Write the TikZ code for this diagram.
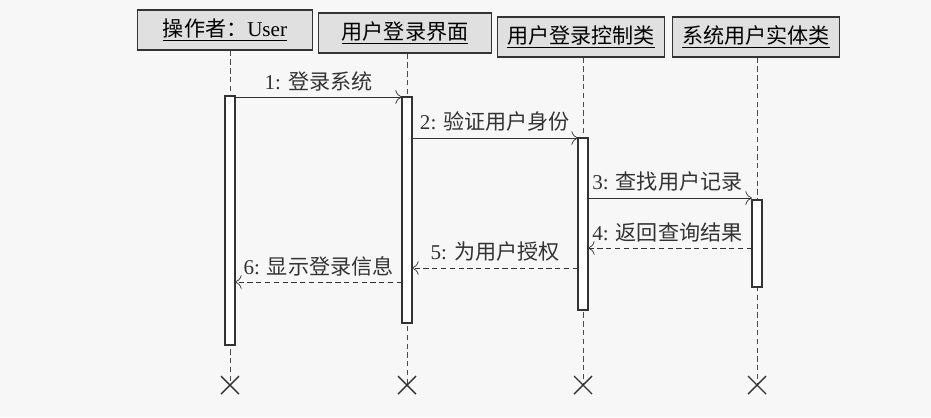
\documentclass[tikz,border=0pt]{standalone}
\usepackage{fontspec}
\setmainfont{Liberation Serif}
\newfontfamily\cjk{Noto Sans CJK SC}
\usetikzlibrary{calc,arrows.meta}
\begin{document}
\begin{tikzpicture}[x=0.02cm,y=-0.02cm,
    headbox/.style={draw=black!80,thick,fill=black!12,minimum height=0.8cm,inner sep=2pt,font=\cjk\large},
    actbar/.style={draw=black!80,thick,fill=white},
    lifeline/.style={densely dashed,black!70},
    callmsg/.style={-{To[scale=1.5]},black!80},
    backmsg/.style={-{To[scale=1.5]},densely dashed,black!80},
    msglabel/.style={font=\cjk\large,above}]
  \fill[black!3] (0,0) rectangle (931,417);
  %Cabeceras:
  \node[headbox,minimum width=3.5cm] (user) at (225,30) {\underline{操作者：\rmfamily User}};
  \node[headbox,minimum width=3.45cm] (ui) at (405,33) {\underline{用户登录界面}};
  \node[headbox,minimum width=3.35cm] (ctl) at (581,37) {\underline{用户登录控制类}};
  \node[headbox,minimum width=3.35cm] (ent) at (756,37) {\underline{系统用户实体类}};
  %Lineas de vida y finales:
  \foreach \n/\x in {user/230,ui/407,ctl/583,ent/757}{
    \coordinate (\n end) at (\x,385);
    \draw[lifeline] (\x,0 |- \n.south) -- (\n end);
    \draw[thick,black!80] ($(\n end)+(-9,-9)$) -- ++(18,18) ($(\n end)+(-9,9)$) -- ++(18,-18);
  }
  %Activaciones:
  \draw[actbar] (225,96) rectangle (235,345);
  \draw[actbar] (402,97) rectangle (412,323);
  \draw[actbar] (578,138) rectangle (588,310);
  \draw[actbar] (752,200) rectangle (762,287);
  %Mensajes:
  \coordinate (m1a) at (235,97);  \coordinate (m1b) at (402,97);
  \coordinate (m2a) at (412,138); \coordinate (m2b) at (578,138);
  \coordinate (m3a) at (588,198); \coordinate (m3b) at (752,198);
  \coordinate (m4a) at (752,248); \coordinate (m4b) at (588,248);
  \coordinate (m5a) at (578,268); \coordinate (m5b) at (412,268);
  \coordinate (m6a) at (402,282); \coordinate (m6b) at (235,282);
  \draw[callmsg] (m1a) -- node[msglabel] {\rmfamily 1: \cjk 登录系统} (m1b);
  \draw[callmsg] (m2a) -- node[msglabel,anchor=south west,pos=0,xshift=1pt] {\rmfamily 2: \cjk 验证用户身份} (m2b);
  \draw[callmsg] (m3a) -- node[msglabel,anchor=south west,pos=0,xshift=-1pt] {\rmfamily 3: \cjk 查找用户记录} (m3b);
  \draw[backmsg] (m4a) -- node[msglabel,anchor=south west,pos=1,xshift=-1pt] {\rmfamily 4: \cjk 返回查询结果} (m4b);
  \draw[backmsg] (m5a) -- node[msglabel] {\rmfamily 5: \cjk 为用户授权} (m5b);
  \draw[backmsg] (m6a) -- node[msglabel] {\rmfamily 6: \cjk 显示登录信息} (m6b);
\end{tikzpicture}
\end{document}
